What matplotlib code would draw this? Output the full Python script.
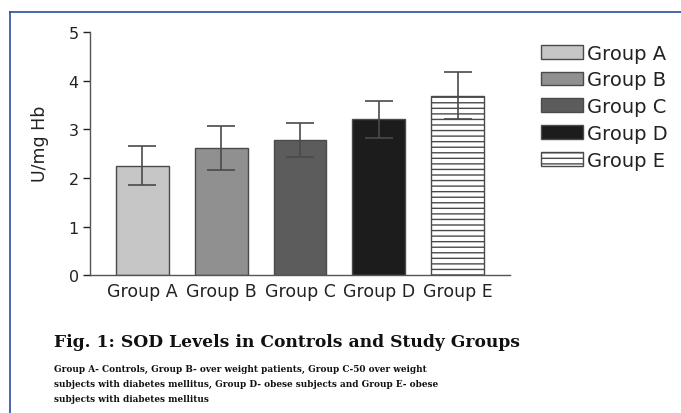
import matplotlib.pyplot as plt
from matplotlib.lines import Line2D

groups = ['Group A', 'Group B', 'Group C', 'Group D', 'Group E']
means = [2.25, 2.62, 2.78, 3.21, 3.69]
errors = [0.40, 0.45, 0.35, 0.38, 0.48]
colors = ['#c6c6c6', '#909090', '#5c5c5c', '#1c1c1c', 'white']
hatches = ['', '', '', '', '---']

caption_title = 'Fig. 1: SOD Levels in Controls and Study Groups'
caption_lines = [
    'Group A- Controls, Group B- over weight patients, Group C-50 over weight',
    'subjects with diabetes mellitus, Group D- obese subjects and Group E- obese',
    'subjects with diabetes mellitus',
]

plt.rcParams['font.family'] = ['DejaVu Sans']
plt.rcParams['hatch.color'] = '#8a8a8a'
plt.rcParams['hatch.linewidth'] = 1.0

fig = plt.figure(figsize=(6.81, 4.14), dpi=100)
ax = fig.add_axes([0.132, 0.333, 0.617, 0.587])

x = list(range(len(groups)))
bars = ax.bar(x, means, width=0.67, color=colors, edgecolor='#4a4a4a',
              linewidth=1.0, label=groups)
for b, h in zip(bars, hatches):
    b.set_hatch(h)
ax.errorbar(x, means, yerr=errors, fmt='none', ecolor='#4a4a4a',
            elinewidth=1.2, capsize=10, capthick=1.2)

ax.set_xlim(-0.667, 4.667)
ax.set_ylim(0, 5)
ax.set_yticks([0, 1, 2, 3, 4, 5])
ax.set_xticks(x)
ax.set_xticklabels(groups, fontsize=12.5, color='#222222')
ax.tick_params(axis='x', length=0, pad=5)
ax.tick_params(axis='y', labelsize=11.5, colors='#222222', length=5, width=1,
               direction='out', pad=3)
for s in ['top', 'right']:
    ax.spines[s].set_visible(False)
for s in ['left', 'bottom']:
    ax.spines[s].set_color('#555555')
    ax.spines[s].set_linewidth(1.0)
ax.set_ylabel('U/mg Hb', fontsize=12.5, color='#222222')
ax.yaxis.set_label_coords(-0.098, 0.543)

leg = ax.legend(bars, groups, loc='upper left', bbox_to_anchor=(1.055, 0.985),
                frameon=False, fontsize=14, handlelength=2.15, handleheight=0.7,
                handletextpad=0.2, labelspacing=0.4, borderaxespad=0)
for t in leg.get_texts():
    t.set_color('#222222')

# caption
serif = ['DejaVu Serif']
fig.text(54 / 681, 1 - 343 / 414, caption_title, family=serif,
         fontweight='bold', fontsize=12.3, va='center', ha='left', color='#111111')
for i, line in enumerate(caption_lines):
    fig.text(54 / 681, 1 - (369 + 15.5 * i) / 414, line, family=serif,
             fontweight='bold', fontsize=6.4, va='center', ha='left', color='#111111')

# blue page frame
fig.add_artist(Line2D([10 / 681, 1], [1 - 13 / 414, 1 - 13 / 414],
                      transform=fig.transFigure, color='#2b4ba6', linewidth=1.2))
fig.add_artist(Line2D([10 / 681, 10 / 681], [0, 1 - 13 / 414],
                      transform=fig.transFigure, color='#2b4ba6', linewidth=1.2))

fig.savefig('out.png', dpi=100)
